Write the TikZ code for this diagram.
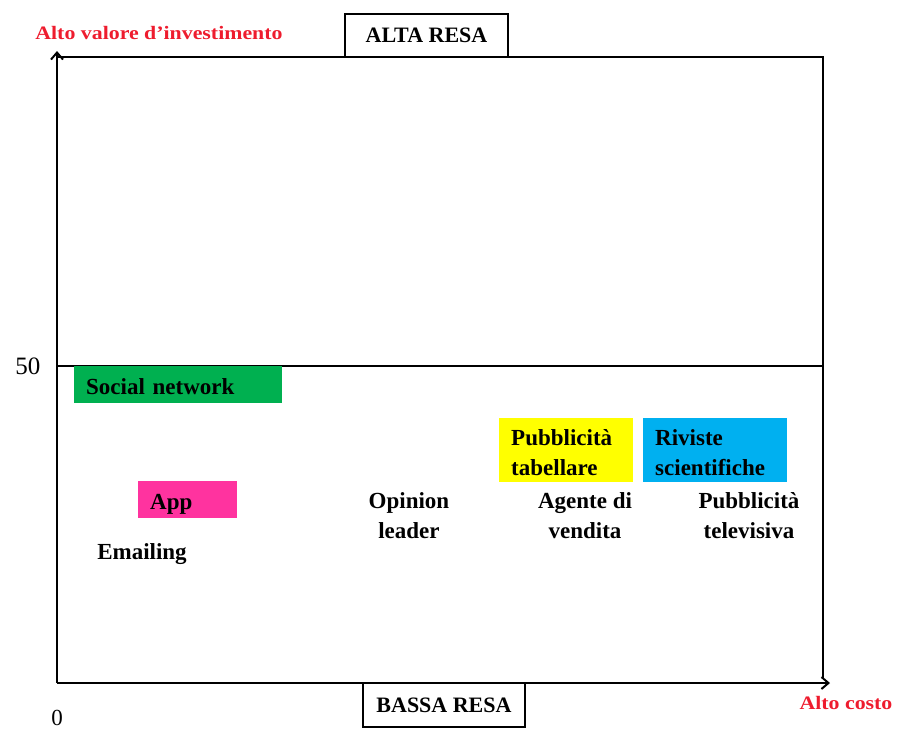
\documentclass[tikz,border=0pt]{standalone}
\usepackage{fontspec}
\setmainfont{Liberation Serif}
\newfontfamily\redfont[FakeStretch=1.15]{Liberation Serif}
\usetikzlibrary{arrows.meta}
\definecolor{sngreen}{HTML}{00B050}
\definecolor{apppink}{HTML}{FF339F}
\definecolor{pubyellow}{HTML}{FFFF00}
\definecolor{rivblue}{HTML}{00B0F0}
\definecolor{axred}{HTML}{EE1C2E}
\begin{document}
\begin{tikzpicture}[x=1pt,y=-1pt,
  lbl/.style={font=\fontsize{23}{30}\selectfont\bfseries, align=center, inner sep=0pt},
  cbox/.style={font=\fontsize{23}{30}\selectfont\bfseries, align=left, anchor=north west, inner xsep=12pt, inner ysep=0pt},
  onebox/.style={cbox, text height=19pt, text depth=0pt},
  axis/.style={line width=2pt, -{Straight Barb[length=7pt,width=12pt]}},
  frame/.style={line width=1.6pt},
  resa/.style={draw, line width=2pt, fill=white, font=\fontsize{22}{26}\selectfont\bfseries, inner sep=0pt},
  redlbl/.style={text=axred, font=\redfont\fontsize{19}{22}\selectfont\bfseries, inner sep=0pt}]
\useasboundingbox (0,0) rectangle (898,729);
\coordinate (O) at (57,683);
\coordinate (ytop) at (57,51);
\coordinate (xend) at (830,683);
\coordinate (TL) at (57,57);
\coordinate (TR) at (823,57);
\coordinate (BR) at (823,679);
\coordinate (ML) at (57,366);
\coordinate (MR) at (823,366);
\draw[frame] (TL) -- (TR) -- (BR);
\draw[frame] (ML) -- (MR);
\draw[axis] (O) -- (ytop);
\draw[axis] (O) -- (xend);
\node[resa, minimum width=163pt, minimum height=43pt] (alta) at (426.5,35.5) {ALTA RESA};
\node[resa, minimum width=162pt, minimum height=44pt] (bassa) at (444,705) {BASSA RESA};
\node[redlbl] (yl) at (159,33) {Alto valore d’investimento};
\node[redlbl] (xl) at (846,703) {Alto costo};
\node[font=\fontsize{25}{28}\selectfont, inner sep=0pt] (fifty) at (28,366) {50};
\node[font=\fontsize{23}{26}\selectfont, inner sep=0pt] (zero) at (57,718) {0};
\node[onebox, fill=sngreen, minimum width=208pt, minimum height=37pt, text width=184pt] (social) at (74,366) {Social network};
\node[onebox, fill=apppink, minimum width=99pt, minimum height=37pt, text width=75pt] (app) at (138,481) {App};
\node[cbox, fill=pubyellow, minimum width=134pt, minimum height=64pt, text width=110pt] (pub) at (499,418) {\strut Pubblicità\\tabellare};
\node[cbox, fill=rivblue, minimum width=144pt, minimum height=64pt, text width=120pt] (riv) at (643,418) {\strut Riviste\\scientifiche};
\node[lbl] (email) at (142,554) {Emailing};
\node[lbl] (opinion) at (409,516) {Opinion\\leader};
\node[lbl] (agente) at (585,516) {Agente di\\vendita};
\node[lbl] (tv) at (749,516) {Pubblicità\\televisiva};
\end{tikzpicture}
\end{document}
